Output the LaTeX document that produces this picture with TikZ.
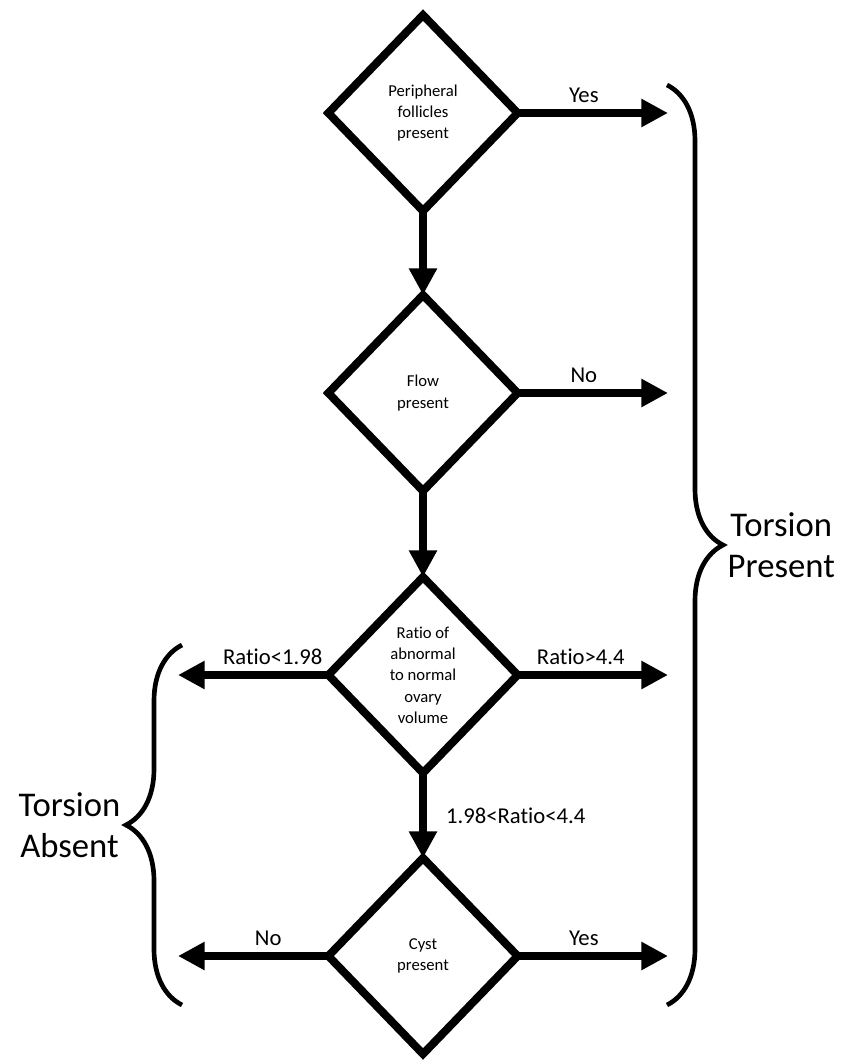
\documentclass[tikz,border=0pt]{standalone}
\usepackage{fontspec}
\setmainfont[Ligatures=NoCommon]{Carlito}
\usetikzlibrary{shapes.geometric,arrows.meta,decorations.pathreplacing}
\tikzset{>={Triangle[length=20pt,width=20pt]}}
\tikzset{
  decision/.style={diamond,draw,line width=6pt,minimum width=142pt,minimum height=147pt,
    inner sep=0pt,outer sep=0pt,align=center,font=\fontsize{12.5}{16}\selectfont},
  flow/.style={->,line width=6pt},
  lbl/.style={above=1.5pt,font=\fontsize{17}{20}\selectfont},
  bigbrace/.style={decoration={brace,amplitude=42pt},decorate,line width=3.5pt},
  outcome/.style={align=center,font=\fontsize{26}{31}\selectfont}
}

\begin{document}
\begin{tikzpicture}[x=0.75pt,y=-0.75pt]
  \useasboundingbox (0,0) rectangle (851,1060);

  % decisions
  \node[decision] (foll) at (423,113) {Peripheral\\follicles\\present};
  \node[decision] (flowd) at (423,393) {Flow\\present};
  \node[decision] (ratio) at (423,675) {Ratio of\\abnormal\\to normal\\ovary\\volume};
  \node[decision] (cyst) at (423,956) {Cyst\\present};

  % arrow ends
  \coordinate (follR) at (668,113);
  \coordinate (flowR) at (668,393);
  \coordinate (ratioR) at (668,675);
  \coordinate (ratioL) at (178,675);
  \coordinate (cystR) at (668,956);
  \coordinate (cystL) at (178,956);

  \draw[flow] (foll.south) -- (flowd.north);
  \draw[flow] (flowd.south) -- (ratio.north);
  \draw[flow] (ratio.south) -- node[right=11pt,font=\fontsize{17}{20}\selectfont] {1.98<Ratio<4.4} (cyst.north);

  \draw[flow] (foll.east) -- node[lbl,pos=.44] {Yes} (follR);
  \draw[flow] (flowd.east) -- node[lbl,pos=.44] {No} (flowR);
  \draw[flow] (ratio.east) -- node[lbl,pos=.42] {Ratio>4.4} (ratioR);
  \draw[flow] (ratio.west) -- node[lbl,pos=.37] {Ratio<1.98} (ratioL);
  \draw[flow] (cyst.east) -- node[lbl,pos=.44] {Yes} (cystR);
  \draw[flow] (cyst.west) -- node[lbl,pos=.4] {No} (cystL);

  % braces
  \coordinate (presTop) at (667,85);
  \coordinate (presBot) at (667,1005);
  \coordinate (absTop) at (182,645);
  \coordinate (absBot) at (182,1005);
  \draw[bigbrace] (presTop) -- (presBot);
  \draw[bigbrace] (absBot) -- (absTop);

  \node[outcome,anchor=west] (present) at (723,545) {Torsion\\Present};
  \node[outcome,anchor=east] (absent) at (125,825) {Torsion\\Absent};
\end{tikzpicture}
\end{document}
